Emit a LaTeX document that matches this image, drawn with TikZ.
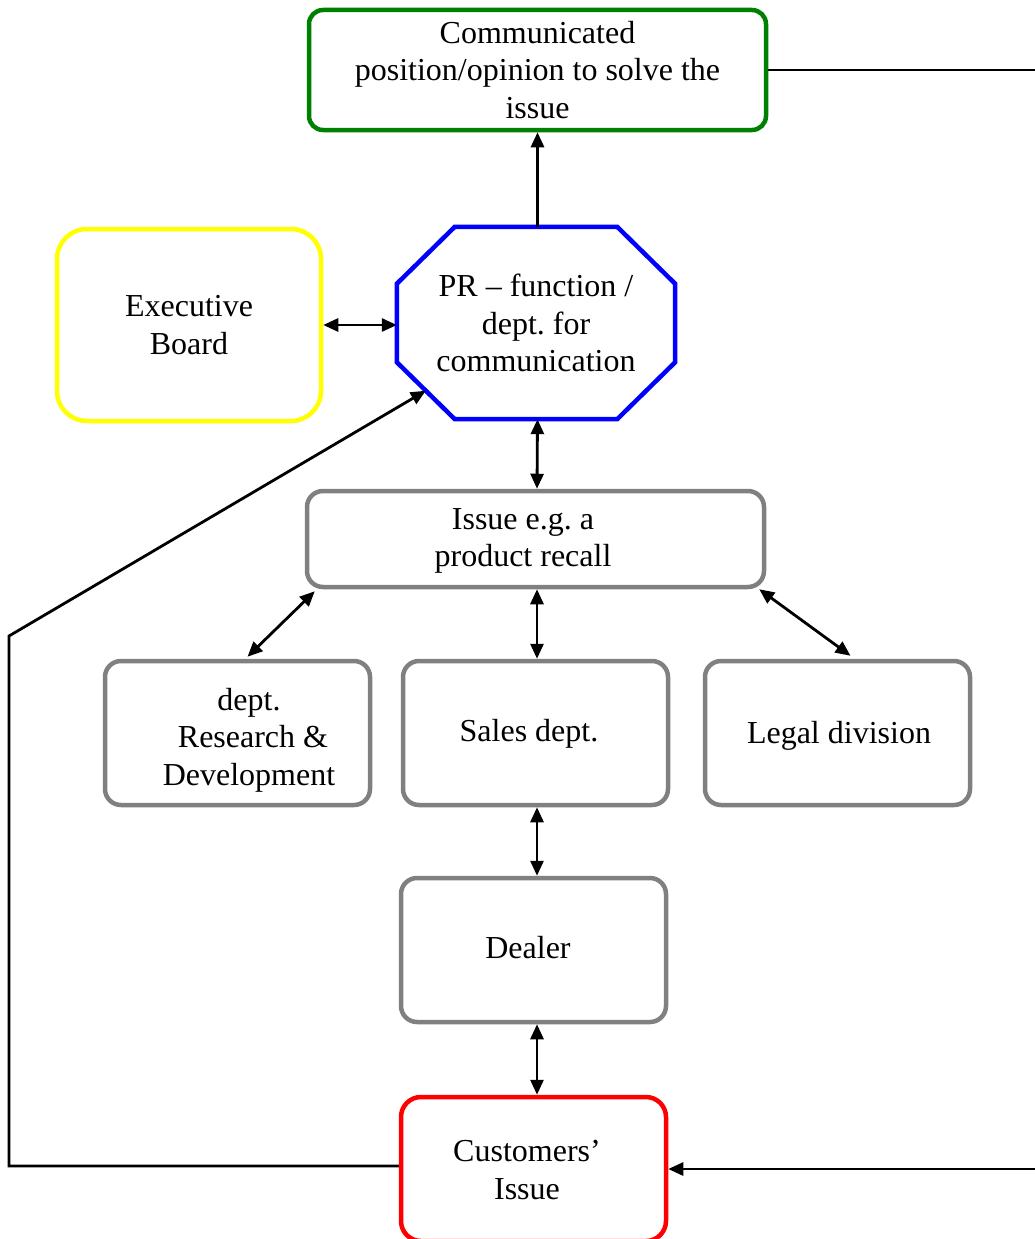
\documentclass[tikz,border=0pt]{standalone}
\usepackage{fontspec}
\setmainfont{Liberation Serif}
\usetikzlibrary{arrows.meta,calc}
\definecolor{boxgray}{RGB}{128,128,128}
\definecolor{commgreen}{RGB}{0,128,0}
\definecolor{execyellow}{RGB}{255,255,0}
\definecolor{prblue}{RGB}{0,0,255}
\definecolor{custred}{RGB}{255,0,0}
\begin{document}
\begin{tikzpicture}[x=1pt,y=-1pt,
  box/.style={draw=boxgray, line width=4.5pt, rounded corners=16pt, inner sep=0pt,
    minimum width=265pt, minimum height=144pt},
  txt/.style={align=center, font=\fontsize{32}{37.5}\selectfont, inner sep=0pt},
  link/.style={line width=2.8pt, draw=black},
  both/.style={link, {Triangle[length=15pt,width=13pt]}-{Triangle[length=15pt,width=13pt]}},
  one/.style={link, -{Triangle[length=15pt,width=13pt]}}]
\useasboundingbox (0,0) rectangle (1035,1239);

% boxes
\node[box, txt, draw=commgreen, rounded corners=14pt, minimum width=457pt, minimum height=120pt]
  (comm) at (537.5,70) {Communicated\\position/opinion to solve the\\issue};
\node[box, txt, draw=execyellow, rounded corners=30pt, minimum width=264pt, minimum height=192pt]
  (exec) at (189,325) {Executive\\Board};
\node[txt, minimum width=278pt, minimum height=192pt] (pr) at (536,323)
  {PR -- function /\\dept.\ for\\communication};
\draw[line width=4.5pt, draw=prblue]
  ($(pr.north west)+(58,0)$) -- ($(pr.north east)+(-58,0)$) -- ($(pr.north east)+(0,57)$)
  -- ($(pr.south east)+(0,-57)$) -- ($(pr.south east)+(-58,0)$) -- ($(pr.south west)+(58,0)$)
  -- ($(pr.south west)+(0,-57)$) -- ($(pr.north west)+(0,57)$) -- cycle;
\coordinate (prsw) at ($(pr.south west)+(29,-28.5)$);

\node[box, minimum width=457pt, minimum height=96pt] (issue) at (535.5,539) {};
\node[txt] at (523,541) {Issue e.g.\ a\\product recall};

\node[box] (rd) at (237.5,733) {};
\node[txt] at (249,740) {dept.\\ \ Research \&\\Development};
\node[box] (sales) at (535.5,733) {};
\node[txt] at (529,734) {Sales dept.};
\node[box] (legal) at (837.5,733) {};
\node[txt] at (839,736) {Legal division};
\node[box] (dealer) at (533.5,950) {};
\node[txt] at (528,948) {Dealer};
\node[box, draw=custred, rounded corners=20pt] (cust) at (533.5,1169) {};
\node[txt] at (527,1170) {Customers'\\Issue};

% connectors
\draw[one] (pr.north -| comm.south) -- (comm.south);
\draw[both] (exec.east) -- (exec.east -| pr.west);
\draw[both] ($(pr.south)+(1.5,0)$) -- ($(issue.north)+(1.5,0)$);
\draw[both] ($(issue.south west)+(10,2)$) -- ($(rd.north)+(10,-2)$);
\draw[both] ($(issue.south)+(1.5,0)$) -- ($(sales.north)+(1.5,0)$);
\draw[both] ($(issue.south east)+(-7,0)$) -- ($(legal.north)+(13,-3)$);
\draw[both] ($(sales.south)+(1.5,0)$) -- ($(sales.south |- dealer.north)+(1.5,0)$);
\draw[both] ($(dealer.south)+(3.5,0)$) -- ($(cust.north)+(3.5,0)$);

\coordinate (rr) at (1040,0);
\coordinate (ll) at (9,636);
\draw[one] (comm.east) -- (comm.east -| rr) |- (cust.east);
\draw[one] ($(cust.west)+(0,-3)$) -| (ll) -- (prsw);
\end{tikzpicture}
\end{document}
